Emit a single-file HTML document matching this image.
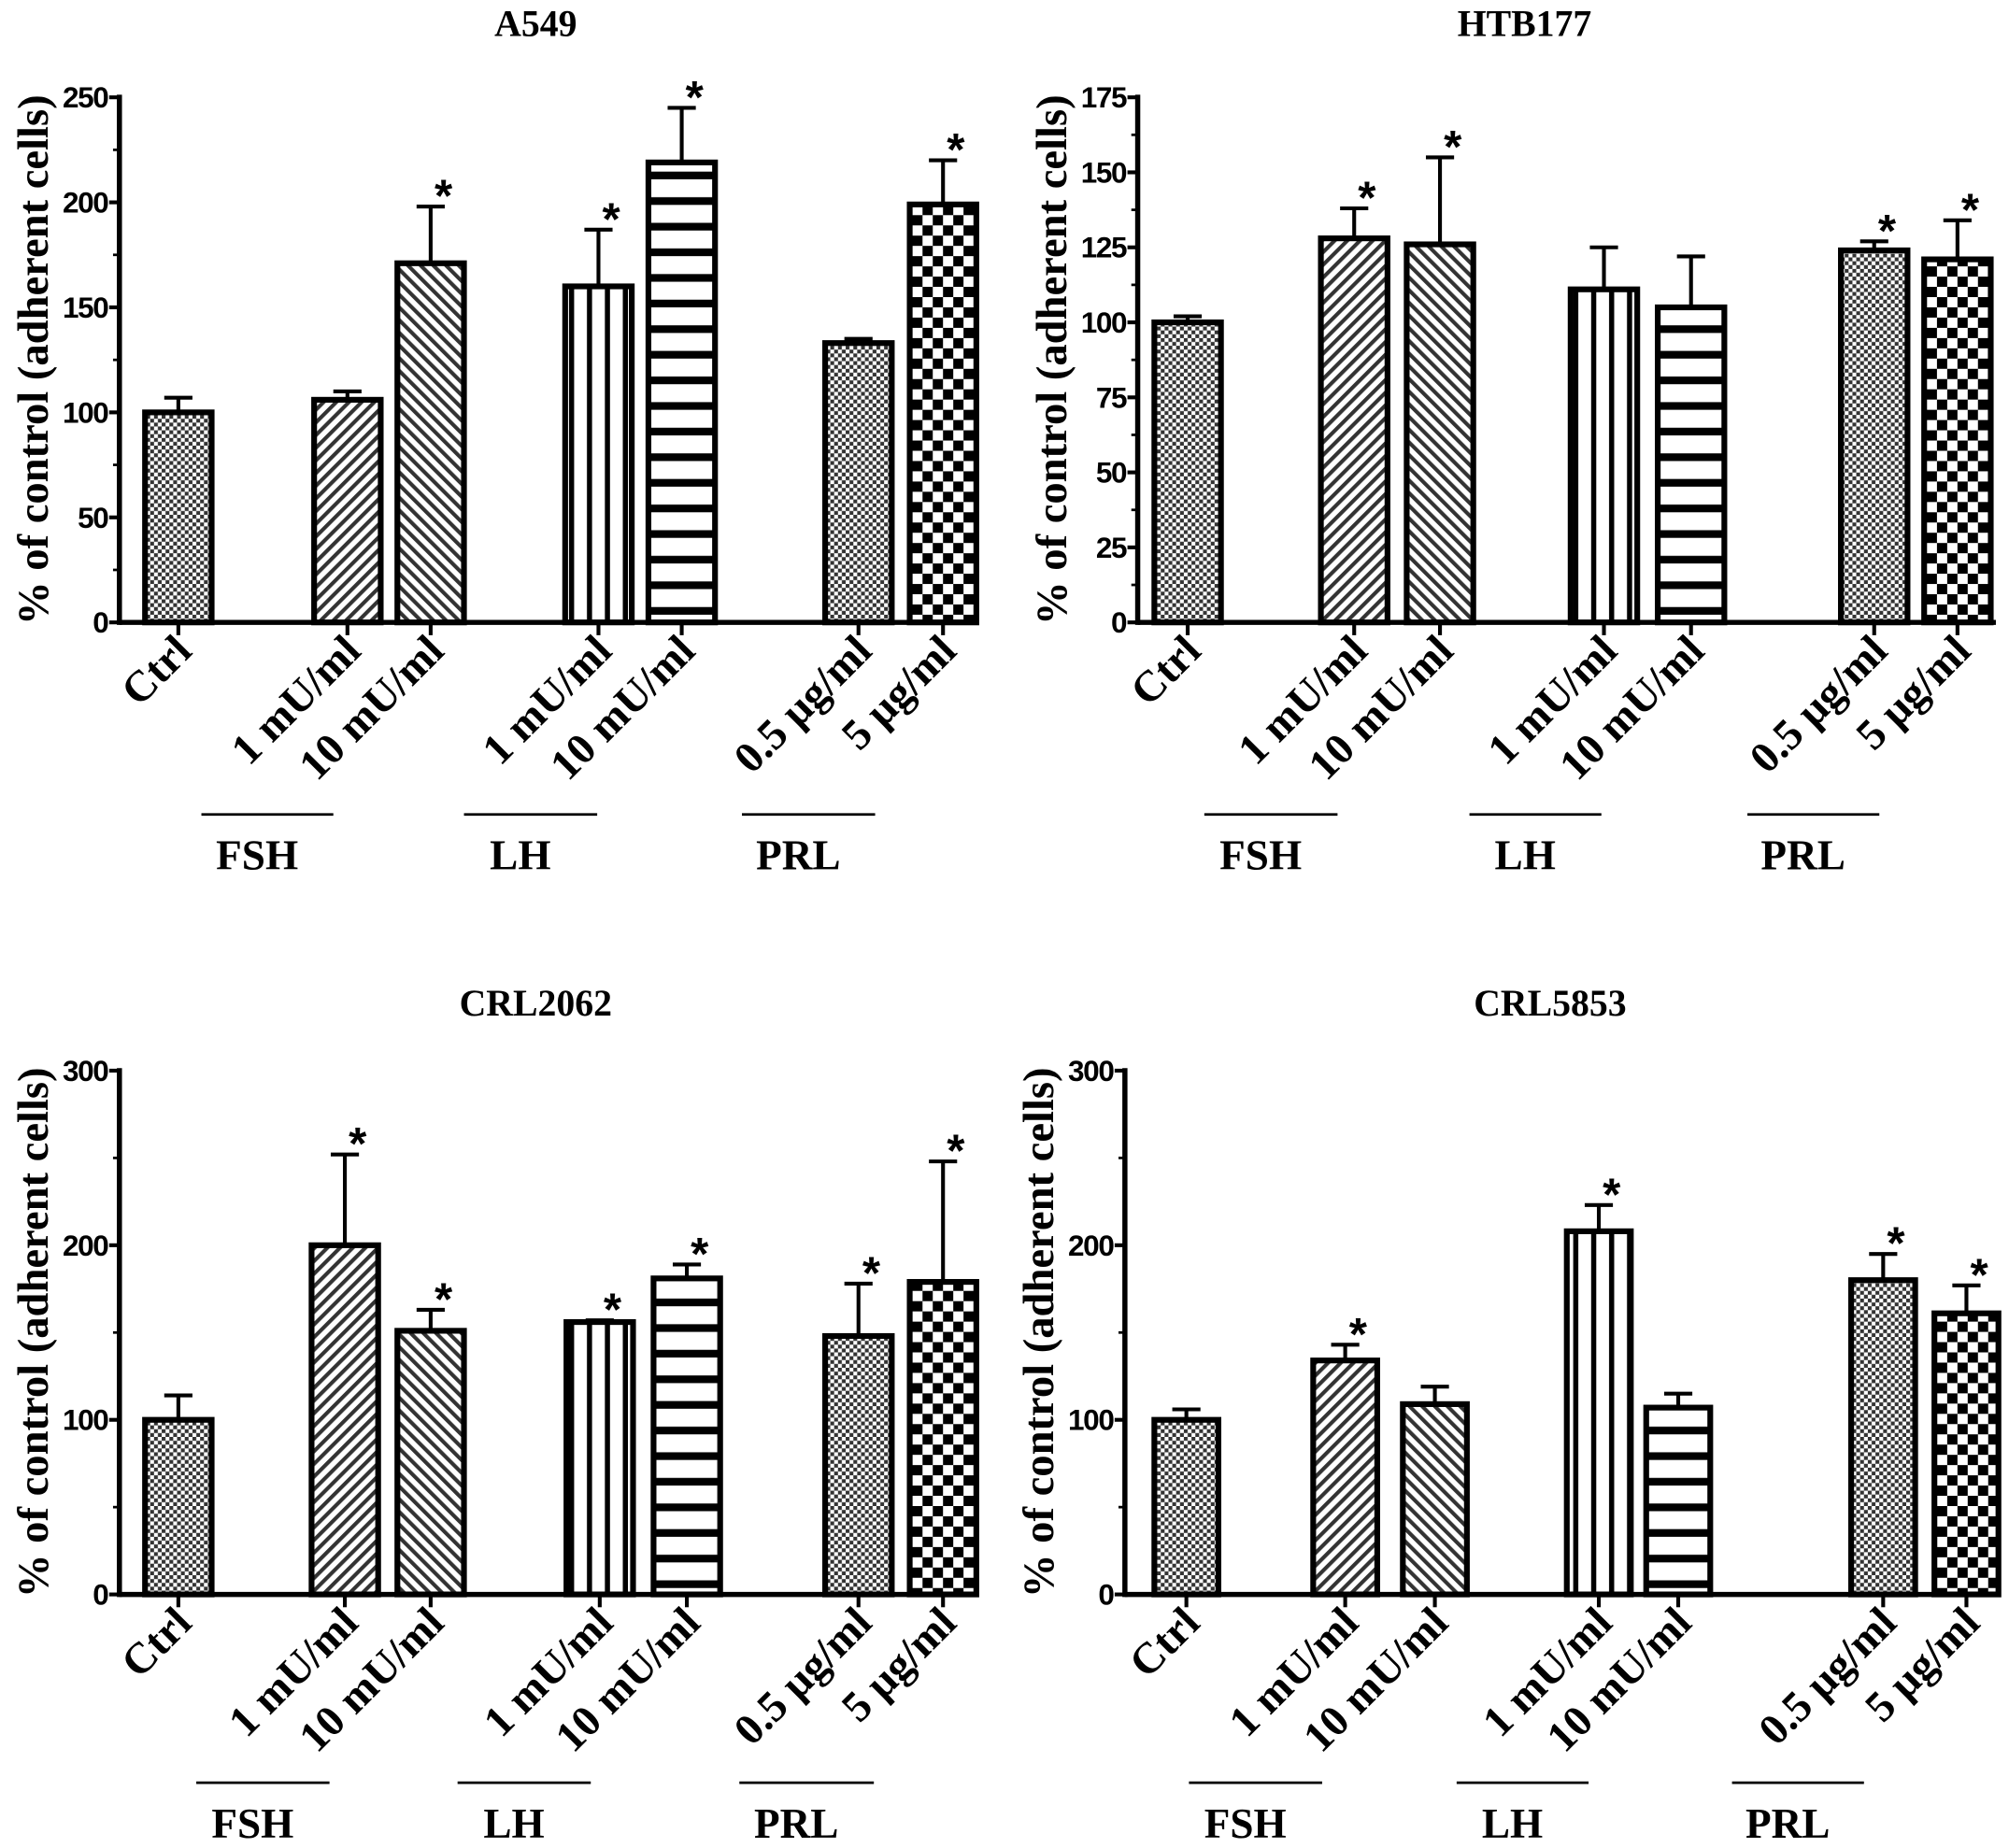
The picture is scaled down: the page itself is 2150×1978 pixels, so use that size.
<!DOCTYPE html>
<html><head><meta charset="utf-8"><style>
html,body{margin:0;padding:0;background:#fff}
svg{display:block}
.t{font-family:"Liberation Serif",serif;font-weight:bold;fill:#000}
.s{font-family:"Liberation Sans",sans-serif;font-weight:bold;fill:#000}
</style></head><body>
<svg id="c" width="2150" height="1978" viewBox="0 0 1568 1443" xmlns="http://www.w3.org/2000/svg">
<defs>
<pattern id="pCtrl" width="6" height="6" patternUnits="userSpaceOnUse"><rect width="6" height="6" fill="#fff"/><rect width="3" height="3" fill="#333"/><rect x="3" y="3" width="3" height="3" fill="#333"/></pattern>
<pattern id="pF1" width="7" height="7" patternUnits="userSpaceOnUse" patternTransform="rotate(45)"><rect width="7" height="7" fill="#fff"/><rect width="3" height="7" fill="#333"/></pattern>
<pattern id="pF10" width="7" height="7" patternUnits="userSpaceOnUse" patternTransform="rotate(-45)"><rect width="7" height="7" fill="#fff"/><rect width="3" height="7" fill="#333"/></pattern>
<pattern id="pL1" width="14" height="10" patternUnits="userSpaceOnUse"><rect width="14" height="10" fill="#fff"/><rect x="10" width="4" height="10" fill="#000"/></pattern>
<pattern id="pL10" width="10" height="20" patternUnits="userSpaceOnUse"><rect width="10" height="20" fill="#fff"/><rect y="14" width="10" height="6" fill="#000"/></pattern>
<pattern id="pP5" width="16" height="16" patternUnits="userSpaceOnUse"><rect width="16" height="16" fill="#fff"/><rect width="8" height="8" fill="#000"/><rect x="8" y="8" width="8" height="8" fill="#000"/></pattern>
</defs>
</svg>
<script>
const categories=["Ctrl","1 mU/ml","10 mU/ml","1 mU/ml","10 mU/ml","0.5 µg/ml","5 µg/ml"];
const fills=["pCtrl","pF1","pF10","pL1","pL10","pCtrl","pP5"];
const groupNames=["FSH","LH","PRL"];
const a549Values=[100,106,171,160,219,133,199];
const a549Err=[107,110,198,187,245,135,220];
const a549Star=[0,0,1,1,1,0,1];
const htbValues=[100,128,126,111,105,124,121];
const htbErr=[102,138,155,125,122,127,134];
const htbStar=[0,1,1,0,0,1,1];
const crl2062Values=[100,200,151,156,181,148,179];
const crl2062Err=[114,252,163,157,189,178,248];
const crl2062Star=[0,1,1,1,1,1,1];
const crl5853Values=[100,134,109,208,107,180,161];
const crl5853Err=[106,143,119,223,115,195,177];
const crl5853Star=[0,1,0,1,0,1,1];
const a549Ticks=[0,50,100,150,200,250];
const htbTicks=[0,25,50,75,100,125,150,175];
const crlTicks=[0,100,200,300];

const svg=document.getElementById('c');
const NS='http://www.w3.org/2000/svg';
function mk(tag,attrs,parent){const e=document.createElementNS(NS,tag);for(const k in attrs)e.setAttribute(k,attrs[k]);(parent||svg).appendChild(e);return e;}

function panel(cfg){
  const g=mk('g',{});
  
  
  const yMax=cfg.ticks[cfg.ticks.length-1];
  const y=v=>cfg.y0-(v/yMax)*(cfg.y0-cfg.yTop);
  const x=i=>cfg.centers[i];
  const t=mk('text',{x:cfg.titleX,y:cfg.titleY,'text-anchor':'middle','font-size':29,class:'t'},g);
  t.textContent=cfg.title;
  
  
  const yl=mk('text',{transform:`translate(${cfg.ax-56},${(cfg.y0+cfg.yTop)/2}) rotate(-90)`,'text-anchor':'middle','font-size':34,class:'t'},g);
  yl.textContent='% of control (adherent cells)';
  
  
  cfg.values.forEach((v,i)=>{
    const bw=cfg.bw;
    const eb=mk('line',{x1:x(i),x2:x(i),y1:y(v),y2:y(cfg.err[i]),stroke:'#000','stroke-width':3},g);
    
    
    const cap=mk('line',{x1:x(i)-11,x2:x(i)+11,y1:y(cfg.err[i]),y2:y(cfg.err[i]),stroke:'#000','stroke-width':3},g);
    
    
    const r=mk('rect',{x:x(i)-bw/2,y:y(v),width:bw,height:cfg.y0-y(v),fill:`url(#${fills[i]})`,stroke:'#000','stroke-width':4.5},g);
    
    
    if(cfg.star[i]){
      const s=mk('text',{x:x(i)+10,y:y(cfg.err[i])+4,'text-anchor':'middle','font-size':36,class:'s'},g);
      s.textContent='*';
      
      
    }
    const tk=mk('line',{x1:x(i),x2:x(i),y1:cfg.y0,y2:cfg.y0+10,stroke:'#000','stroke-width':3},g);
    
    
    const lb=mk('text',{transform:`translate(${x(i)+12},${cfg.y0+24}) rotate(-45)`,'text-anchor':'end','font-size':34,class:'t'},g);
    lb.textContent=categories[i];
    
    
  });
  const ya=mk('line',{x1:cfg.ax,x2:cfg.ax,y1:cfg.yTop-2,y2:cfg.y0+2,stroke:'#000','stroke-width':4},g);
  
  
  const xa=mk('line',{x1:cfg.ax,x2:cfg.axEnd,y1:cfg.y0,y2:cfg.y0,stroke:'#000','stroke-width':4},g);
  
  
  cfg.ticks.forEach((v,k)=>{
    const tl=mk('line',{x1:cfg.ax-8,x2:cfg.ax,y1:y(v),y2:y(v),stroke:'#000','stroke-width':3},g);
    
    
    const tt=mk('text',{x:cfg.ax-9,y:y(v)+8,'text-anchor':'end','font-size':23,class:'s',textLength:'',style:'letter-spacing:-1px'},g);
    tt.removeAttribute('textLength');
    tt.textContent=v;
    
    
    if(k<cfg.ticks.length-1){
      const mv=(v+cfg.ticks[k+1])/2;
      const ml=mk('line',{x1:cfg.ax-5,x2:cfg.ax,y1:y(mv),y2:y(mv),stroke:'#000','stroke-width':2},g);
      
      
    }
  });
  cfg.brackets.forEach((b,j)=>{
    const bl=mk('line',{x1:b[0],x2:b[1],y1:cfg.brY,y2:cfg.brY,stroke:'#000','stroke-width':2},g);
    
    
    const gt=mk('text',{x:(b[0]+b[1])/2-8,y:cfg.brY+43,'text-anchor':'middle','font-size':33,class:'t'},g);
    gt.textContent=groupNames[j];
    
    
  });
}
panel({name:'a549',title:'A549',titleX:418,titleY:28,ax:93,axEnd:762,y0:486,yTop:76,ticks:a549Ticks,
  centers:[139,271,336,467,532,670,736],bw:52,values:a549Values,err:a549Err,star:a549Star,
  brY:636,brackets:[[157,260],[362,466],[579,683]]});
panel({name:'htb177',title:'HTB177',titleX:1190,titleY:28,ax:888,axEnd:1558,y0:486,yTop:76,ticks:htbTicks,
  centers:[927,1057,1124,1252,1320,1463,1528],bw:52,values:htbValues,err:htbErr,star:htbStar,
  brY:636,brackets:[[940,1044],[1147,1250],[1364,1467]]});
panel({name:'crl2062',title:'CRL2062',titleX:418,titleY:793,ax:93,axEnd:762,y0:1245,yTop:836,ticks:crlTicks,
  centers:[139,269,336,468,536,670,736],bw:52,values:crl2062Values,err:crl2062Err,star:crl2062Star,
  brY:1392,brackets:[[153,257],[357,461],[577,682]]});
panel({name:'crl5853',title:'CRL5853',titleX:1210,titleY:793,ax:878,axEnd:1558,y0:1245,yTop:836,ticks:crlTicks,
  centers:[926,1050,1120,1248,1310,1470,1535],bw:50,values:crl5853Values,err:crl5853Err,star:crl5853Star,
  brY:1392,brackets:[[928,1032],[1137,1240],[1352,1455]]});
</script>
</body></html>
